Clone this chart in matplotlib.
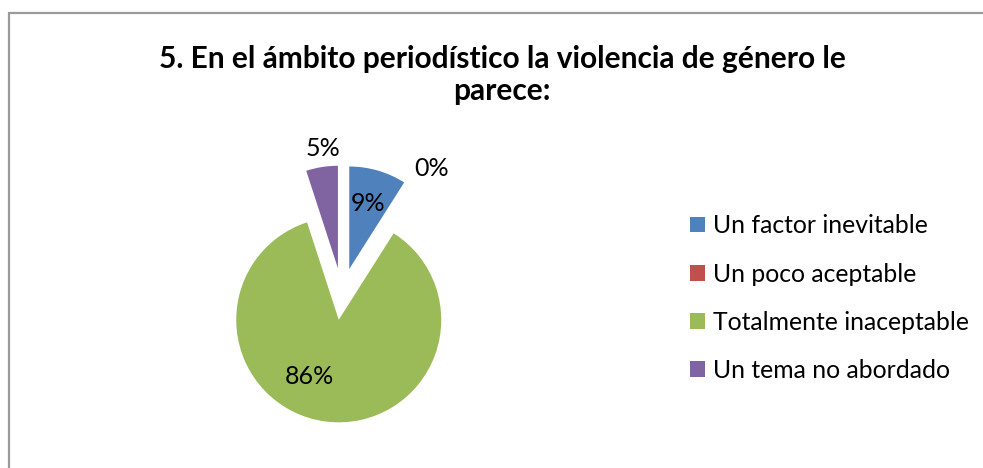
import matplotlib
import matplotlib.pyplot as plt
import numpy as np
from matplotlib.patches import Rectangle

matplotlib.rcParams['font.family'] = ['Lato', 'DejaVu Sans']

# data
categorias = ['Un factor inevitable', 'Un poco aceptable',
              'Totalmente inaceptable', 'Un tema no abordado']
porcentajes = [9, 0, 86, 5]
etiquetas = ['9%', '0%', '86%', '5%']
titulo = '5. En el ámbito periodístico la violencia de género le\nparece:'

colores = ['#4F81BD', '#C0504D', '#9BBB59', '#8064A2']

W, H = 983, 468
fig = plt.figure(figsize=(W / 100, H / 100), dpi=100)

# chart frame (only top/left visible in the crop)
fig.patches.append(Rectangle((9 / W, -0.1), 1.2, 1 - 13 / H + 0.1,
                             transform=fig.transFigure, fill=False,
                             edgecolor='#9a9a9a', linewidth=1.6))

ax = fig.add_axes([0, 0, 1, 1])
cx, cy, r = 342, 294, 102.5
explode = 0.254
wedges, _ = ax.pie(porcentajes, colors=colores, startangle=90,
                   counterclock=False, explode=[explode] * 4,
                   wedgeprops={'linewidth': 0})
ax.set_aspect('auto')
ax.set_xlim(-cx / r, (W - cx) / r)
ax.set_ylim(-(H - cy) / r, cy / r)
ax.axis('off')

# data labels: distance (in radii) and angle tweak per wedge
dist = [0.67, 1.25, 0.62, 1.18]
ajuste = [0, -4, -20, -2]
for w, txt, d, da in zip(wedges, etiquetas, dist, ajuste):
    mid = np.deg2rad((w.theta1 + w.theta2) / 2)
    ox, oy = w.center
    ang = mid + np.deg2rad(da)
    ax.text(ox + d * np.cos(ang), oy + d * np.sin(ang), txt,
            ha='center', va='center', fontsize=18, color='black')

fig.text(502 / W, 1 - 75 / H, titulo, ha='center', va='center',
         fontsize=21.5, fontweight='bold', linespacing=1.2)

fig.legend(wedges, categorias, loc='upper left',
           bbox_to_anchor=(678 / W, 1 - 202 / H), frameon=False,
           fontsize=17.8, handlelength=0.6, handleheight=0.6,
           handletextpad=0.3, labelspacing=1.02, borderpad=0)

fig.savefig('out.png', dpi=100)
